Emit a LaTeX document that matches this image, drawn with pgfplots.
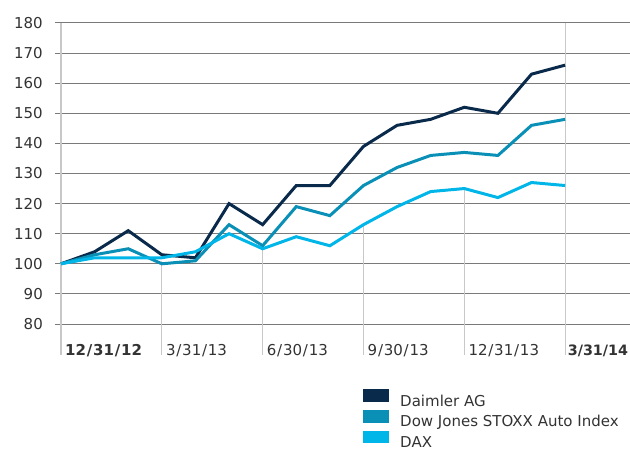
\documentclass[border=0pt]{standalone}
\usepackage{fontspec}
\setmainfont{DejaVu Sans}
\usepackage{pgfplots}
\pgfplotsset{compat=1.18}
\definecolor{daimler}{HTML}{0A2A4C}
\definecolor{dj}{HTML}{0A90B6}
\definecolor{dax}{HTML}{00B5E8}
\definecolor{gridc}{HTML}{7A7A7A}
\definecolor{vline}{HTML}{C8C8C8}
\definecolor{txt}{HTML}{333333}
\newcommand{\lblfont}{\fontsize{15}{17}\selectfont}
\newcommand{\dsl}{\kern0.8pt/\kern0.8pt}
\begin{document}
\begin{tikzpicture}[x=1pt,y=1pt]
\useasboundingbox (-61,-126) rectangle (569,324);
\begin{axis}[
  at={(0,0)}, anchor=south west, scale only axis,
  width=569pt, height=301pt,
  xmin=0, xmax=16.93, ymin=80, ymax=180,
  axis line style={draw=none},
  xtick=\empty,
  ytick={80,90,...,180}, ytick pos=left,
  ymajorgrids, grid style={gridc, line width=1pt},
  major tick length=6pt, tick align=outside,
  ytick style={gridc, line width=1pt},
  yticklabel style={font=\lblfont, text=txt, anchor=east, inner sep=0pt, xshift=-12pt},
  /pgf/number format/assume math mode=true,
  clip=false,
  legend style={at={(0.5308,-0.2160)}, anchor=north west, draw=none, fill=none,
    inner sep=0pt, font=\lblfont, row sep=2.5pt, column sep=11pt,
    nodes={inner sep=0pt, text=txt}},
  legend cell align=left,
  legend image code/.code={\fill[#1] (0pt,0.85pt) rectangle (23pt,10.35pt);},
]
% vertical date lines
\draw[vline, line width=1.5pt] (axis cs:0,180) -- (axis cs:0,69.7);
\draw[vline, line width=1pt] (axis cs:3,101) -- (axis cs:3,69.7);
\draw[vline, line width=1pt] (axis cs:6,105) -- (axis cs:6,69.7);
\draw[vline, line width=1pt] (axis cs:9,113) -- (axis cs:9,69.7);
\draw[vline, line width=1pt] (axis cs:12,125) -- (axis cs:12,69.7);
\draw[vline, line width=1pt] (axis cs:15,180) -- (axis cs:15,69.7);

\addplot[daimler, line width=3pt] coordinates {
(0,100) (1,104) (2,111) (3,103) (4,102) (5,120) (6,113) (7,126) (8,126)
(9,139) (10,146) (11,148) (12,152) (13,150) (14,163) (15,166)};
\addlegendentry{Daimler AG}
\addplot[dj, line width=3pt] coordinates {
(0,100) (1,103) (2,105) (3,100) (4,101) (5,113) (6,106) (7,119) (8,116)
(9,126) (10,132) (11,136) (12,137) (13,136) (14,146) (15,148)};
\addlegendentry{Dow Jones STOXX Auto Index}
\addplot[dax, line width=3pt] coordinates {
(0,100) (1,102) (2,102) (3,102) (4,104) (5,110) (6,105) (7,109) (8,106)
(9,113) (10,119) (11,124) (12,125) (13,122) (14,127) (15,126)};
\addlegendentry{DAX}

\node[anchor=base west, inner sep=0pt, font=\lblfont\bfseries, text=txt, xshift=4pt] at (axis cs:0,69.7) {12\dsl31\dsl12};
\node[anchor=base west, inner sep=0pt, font=\lblfont, text=txt, xshift=4pt] at (axis cs:3,69.7) {3\dsl31\dsl13};
\node[anchor=base west, inner sep=0pt, font=\lblfont, text=txt, xshift=4pt] at (axis cs:6,69.7) {6\dsl30\dsl13};
\node[anchor=base west, inner sep=0pt, font=\lblfont, text=txt, xshift=4pt] at (axis cs:9,69.7) {9\dsl30\dsl13};
\node[anchor=base west, inner sep=0pt, font=\lblfont, text=txt, xshift=4pt] at (axis cs:12,69.7) {12\dsl31\dsl13};
\node[anchor=base west, inner sep=0pt, font=\fontsize{14.3}{17}\selectfont\bfseries, text=txt, xshift=2.5pt] at (axis cs:15,69.7) {3/31/14};
\end{axis}
\end{tikzpicture}
\end{document}
